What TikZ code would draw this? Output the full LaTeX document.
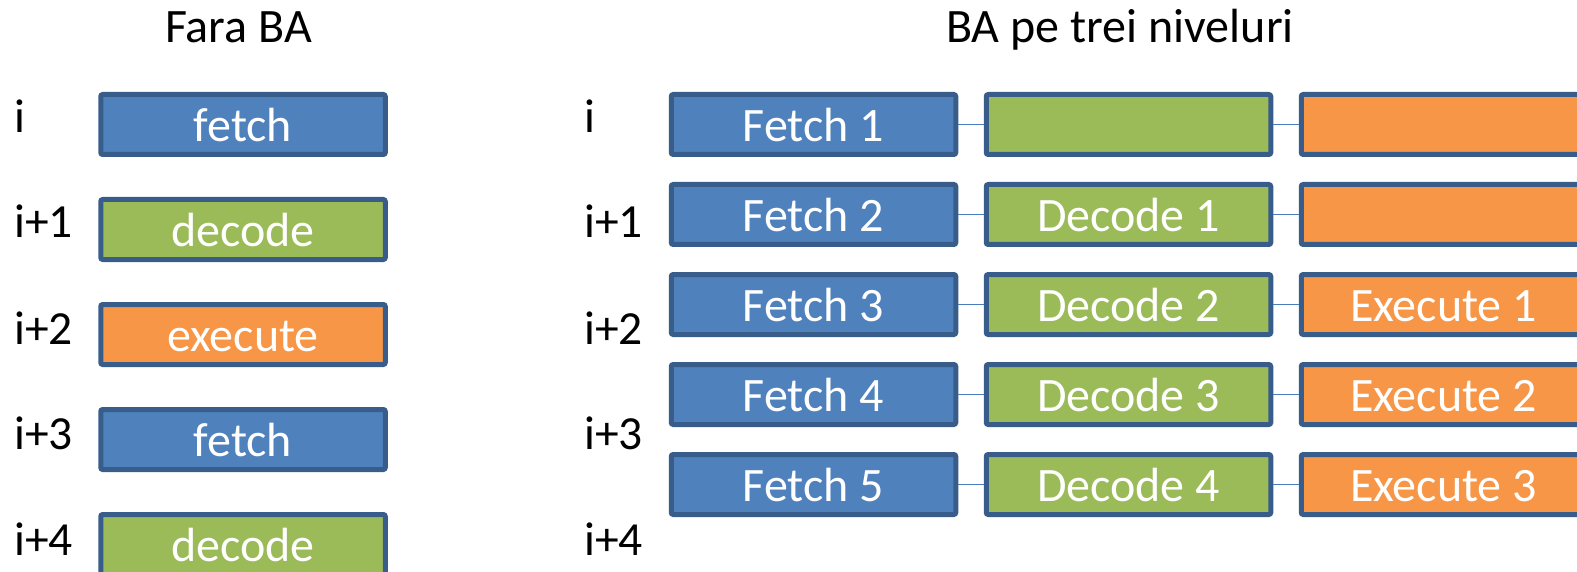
\documentclass[tikz,border=0pt]{standalone}
\usepackage{fontspec}
\setmainfont{Carlito}
\definecolor{bfill}{HTML}{4F81BD}
\definecolor{gfill}{HTML}{9BBB59}
\definecolor{ofill}{HTML}{F79646}
\definecolor{bord}{HTML}{385D8A}
\definecolor{connc}{HTML}{4A7EBB}
\begin{document}
\begin{tikzpicture}[x=1pt,y=-1pt,
  stagebox/.style={draw=bord, line width=5pt, rounded corners=2pt,
    minimum width=284.5pt, minimum height=60pt, inner sep=0pt,
    text=white, font=\fontsize{48}{48}\selectfont, text height=34pt, text depth=0pt},
  fb/.style={stagebox, fill=bfill},
  gb/.style={stagebox, fill=gfill},
  ob/.style={stagebox, fill=ofill},
  conn/.style={draw=connc, line width=1.8pt},
  lbl/.style={anchor=base west, inner sep=0pt, font=\fontsize{47.5}{47.5}\selectfont},
  ttl/.style={anchor=base, inner sep=0pt, font=\fontsize{48}{48}\selectfont}]
\useasboundingbox (0,0) rectangle (1577,572);
\clip (0,0) rectangle (1577,572);

% titles
\node[ttl] (t1) at (238.5,43) {Fara BA};
\node[ttl] (t2) at (1120,43) {BA pe trei niveluri};

% left labels
\node[lbl] (la0) at (14,133) {i};
\node[lbl] (la1) at (14,238) {i+1};
\node[lbl] (la2) at (14,344) {i+2};
\node[lbl] (la3) at (14,449) {i+3};
\node[lbl] (la4) at (14,555) {i+4};

% right labels
\node[lbl] (lb0) at (584,133) {i};
\node[lbl] (lb1) at (584,238) {i+1};
\node[lbl] (lb2) at (584,344) {i+2};
\node[lbl] (lb3) at (584,449) {i+3};
\node[lbl] (lb4) at (584,555) {i+4};

% left column
\node[fb] (s0) at (243,124.5) {fetch};
\node[gb] (s1) at (243,229.5) {decode};
\node[ob] (s2) at (243,334.5) {execute};
\node[fb] (s3) at (243,439.5) {fetch};
\node[gb] (s4) at (243,544.5) {decode};

% right pipeline
\node[fb] (f1) at (813.5,124.5) {Fetch 1};
\node[gb] (d0) at (1128.5,124.5) {};
\node[ob] (e0) at (1443.5,124.5) {};

\node[fb] (f2) at (813.5,214.5) {Fetch 2};
\node[gb] (d1) at (1128.5,214.5) {Decode 1};
\node[ob] (e00) at (1443.5,214.5) {};

\node[fb] (f3) at (813.5,304.5) {Fetch 3};
\node[gb] (d2) at (1128.5,304.5) {Decode 2};
\node[ob] (e1) at (1443.5,304.5) {Execute 1};

\node[fb] (f4) at (813.5,394.5) {Fetch 4};
\node[gb] (d3) at (1128.5,394.5) {Decode 3};
\node[ob] (e2) at (1443.5,394.5) {Execute 2};

\node[fb] (f5) at (813.5,484.5) {Fetch 5};
\node[gb] (d4) at (1128.5,484.5) {Decode 4};
\node[ob] (e3) at (1443.5,484.5) {Execute 3};

% connectors
\draw[conn] (f1.east) -- (d0.west);
\draw[conn] (d0.east) -- (e0.west);
\draw[conn] (f2.east) -- (d1.west);
\draw[conn] (d1.east) -- (e00.west);
\draw[conn] (f3.east) -- (d2.west);
\draw[conn] (d2.east) -- (e1.west);
\draw[conn] (f4.east) -- (d3.west);
\draw[conn] (d3.east) -- (e2.west);
\draw[conn] (f5.east) -- (d4.west);
\draw[conn] (d4.east) -- (e3.west);
\end{tikzpicture}
\end{document}
